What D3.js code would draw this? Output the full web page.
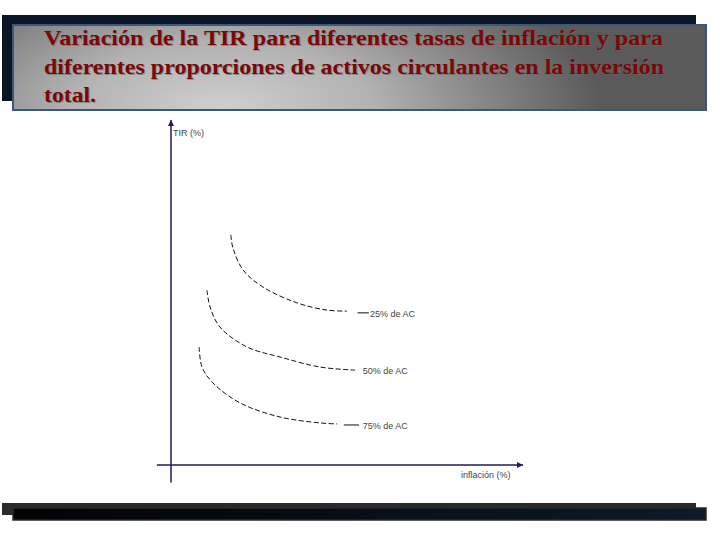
<!DOCTYPE html>
<html>
<head>
<meta charset="utf-8">
<script src="https://cdn.jsdelivr.net/npm/d3@7"></script>
<style>
  body { margin: 0; background: #fff; }
  svg { display: block; }
</style>
</head>
<body>
<script>
// title lines
const titleLines = [
  "Variación de la TIR para diferentes tasas de inflación y para",
  "diferentes proporciones de activos circulantes en la inversión",
  "total."
];

const xLabel = "inflación (%)";
const yLabel = "TIR (%)";

// curves: inflation (%) vs TIR (%), schematic values
const seriesNames = ["25% de AC", "50% de AC", "75% de AC"];
const inflation25 = [17.0, 17.6, 20.5, 26.1, 35.8, 44.3, 50.0];
const tir25 = [66.7, 62.9, 56.5, 51.6, 47.0, 44.9, 44.6];
const inflation50 = [10.2, 11.1, 13.9, 21.6, 31.0, 42.3, 52.3];
const tir50 = [50.7, 45.8, 40.0, 34.2, 31.3, 28.4, 27.5];
const inflation75 = [8.0, 8.8, 11.9, 19.6, 31.0, 42.3, 47.2];
const tir75 = [34.2, 28.4, 23.8, 18.0, 13.9, 12.2, 11.9];

// short solid leader segments before each label: [from, to] inflation, at tir
const leaderFrom = [53.0, null, 49.1];
const leaderTo = [56.2, null, 53.4];
const leaderTir = [44.1, null, 11.6];
// label positions
const labelInflation = [56.5, 54.5, 54.5];
const labelTir = [43.8, 27.3, 11.4];

const W = 720, H = 540;
const axisColor = "#1c1c5c";

const svg = d3.select("body").append("svg")
  .attr("width", W).attr("height", H);

const defs = svg.append("defs");

const grad = defs.append("radialGradient")
  .attr("id", "titleGrad")
  .attr("cx", "0.3").attr("cy", "1.0").attr("r", "0.55")
  .attr("gradientTransform", "translate(0.3,1) scale(1,3.6) translate(-0.3,-1)");
grad.append("stop").attr("offset", "0%").attr("stop-color", "#d0d0d0");
grad.append("stop").attr("offset", "40%").attr("stop-color", "#b2b2b2");
grad.append("stop").attr("offset", "100%").attr("stop-color", "#5a5a5a");

const barGrad = defs.append("linearGradient").attr("id", "barGrad");
barGrad.append("stop").attr("offset", "0%").attr("stop-color", "#020204");
barGrad.append("stop").attr("offset", "100%").attr("stop-color", "#0c1a2a");

defs.append("marker")
  .attr("id", "arrow")
  .attr("viewBox", "0 0 10 10")
  .attr("refX", 10).attr("refY", 5)
  .attr("markerWidth", 8).attr("markerHeight", 6)
  .attr("markerUnits", "userSpaceOnUse")
  .attr("orient", "auto")
  .append("path")
  .attr("d", "M0,0L10,5L0,10z")
  .attr("fill", axisColor);

// title box
svg.append("rect")
  .attr("x", 2).attr("y", 15).attr("width", 694).attr("height", 86)
  .attr("fill", "#0a1626");
svg.append("rect")
  .attr("x", 13).attr("y", 25).attr("width", 693).attr("height", 85)
  .attr("fill", "url(#titleGrad)")
  .attr("stroke", "#3b5878").attr("stroke-width", 2);

const title = svg.append("g")
  .attr("font-family", "'Liberation Serif', 'Times New Roman', serif")
  .attr("font-weight", "bold")
  .attr("font-size", 21);
const titleWidths = [619, 620, 52];
title.selectAll("text.shadow")
  .data(titleLines)
  .enter()
  .append("text")
  .attr("class", "shadow")
  .attr("x", 45).attr("y", (d, i) => 46 + i * 28.5)
  .attr("textLength", (d, i) => titleWidths[i])
  .attr("lengthAdjust", "spacingAndGlyphs")
  .attr("fill", "#6a6a6a")
  .attr("opacity", 0.6)
  .text((d) => d);
title.selectAll("text.main")
  .data(titleLines)
  .enter()
  .append("text")
  .attr("class", "main")
  .attr("x", 44).attr("y", (d, i) => 45 + i * 28.5)
  .attr("textLength", (d, i) => titleWidths[i])
  .attr("lengthAdjust", "spacingAndGlyphs")
  .attr("fill", "#7a0808")
  .text((d) => d);

// bottom bar
svg.append("rect")
  .attr("x", 2).attr("y", 503).attr("width", 694).attr("height", 12)
  .attr("fill", "#2a2a2a");
svg.append("rect")
  .attr("x", 13).attr("y", 508).attr("width", 693).attr("height", 12)
  .attr("fill", "url(#barGrad)")
  .attr("stroke", "#2a2a2a").attr("stroke-width", 1.5);

// scales
const x = d3.scaleLinear().domain([0, 100]).range([171, 523]);
const y = d3.scaleLinear().domain([0, 100]).range([465, 120]);

// axes
const axes = svg.append("g").attr("stroke", axisColor).attr("stroke-width", 1.5);
axes.append("line")
  .attr("x1", x(0)).attr("y1", y(-5.1))
  .attr("x2", x(0)).attr("y2", y(100))
  .attr("marker-end", "url(#arrow)");
axes.append("line")
  .attr("x1", x(-4)).attr("y1", y(0))
  .attr("x2", x(100)).attr("y2", y(0))
  .attr("marker-end", "url(#arrow)");

const small = svg.append("g")
  .attr("font-family", "Arial, 'Liberation Sans', sans-serif")
  .attr("font-size", 9)
  .attr("fill", "#444");
small.append("text")
  .attr("x", x(0) + 2).attr("y", y(100) + 16)
  .text(yLabel);
small.append("text")
  .attr("x", x(82.4)).attr("y", y(0) + 13)
  .text(xLabel);

// curves
const series = [
  { name: seriesNames[0], xs: inflation25, ys: tir25 },
  { name: seriesNames[1], xs: inflation50, ys: tir50 },
  { name: seriesNames[2], xs: inflation75, ys: tir75 }
];

const line = d3.line()
  .x((d) => x(d[0]))
  .y((d) => y(d[1]))
  .curve(d3.curveCatmullRom.alpha(0.5));

svg.append("g")
  .attr("fill", "none")
  .attr("stroke", "#111")
  .attr("stroke-width", 1)
  .attr("stroke-dasharray", "5,2.5")
  .selectAll("path")
  .data(series)
  .enter()
  .append("path")
  .attr("d", (s) => line(d3.zip(s.xs, s.ys)));

svg.append("g")
  .attr("stroke", "#111")
  .attr("stroke-width", 1)
  .selectAll("line")
  .data(seriesNames.map((n, i) => i).filter((i) => leaderFrom[i] !== null))
  .enter()
  .append("line")
  .attr("x1", (i) => x(leaderFrom[i]))
  .attr("x2", (i) => x(leaderTo[i]))
  .attr("y1", (i) => y(leaderTir[i]))
  .attr("y2", (i) => y(leaderTir[i]));

small.selectAll("text.series")
  .data(series)
  .enter()
  .append("text")
  .attr("class", "series")
  .attr("x", (s, i) => x(labelInflation[i]))
  .attr("y", (s, i) => y(labelTir[i]) + 3.5)
  .text((s) => s.name);
</script>
</body>
</html>
